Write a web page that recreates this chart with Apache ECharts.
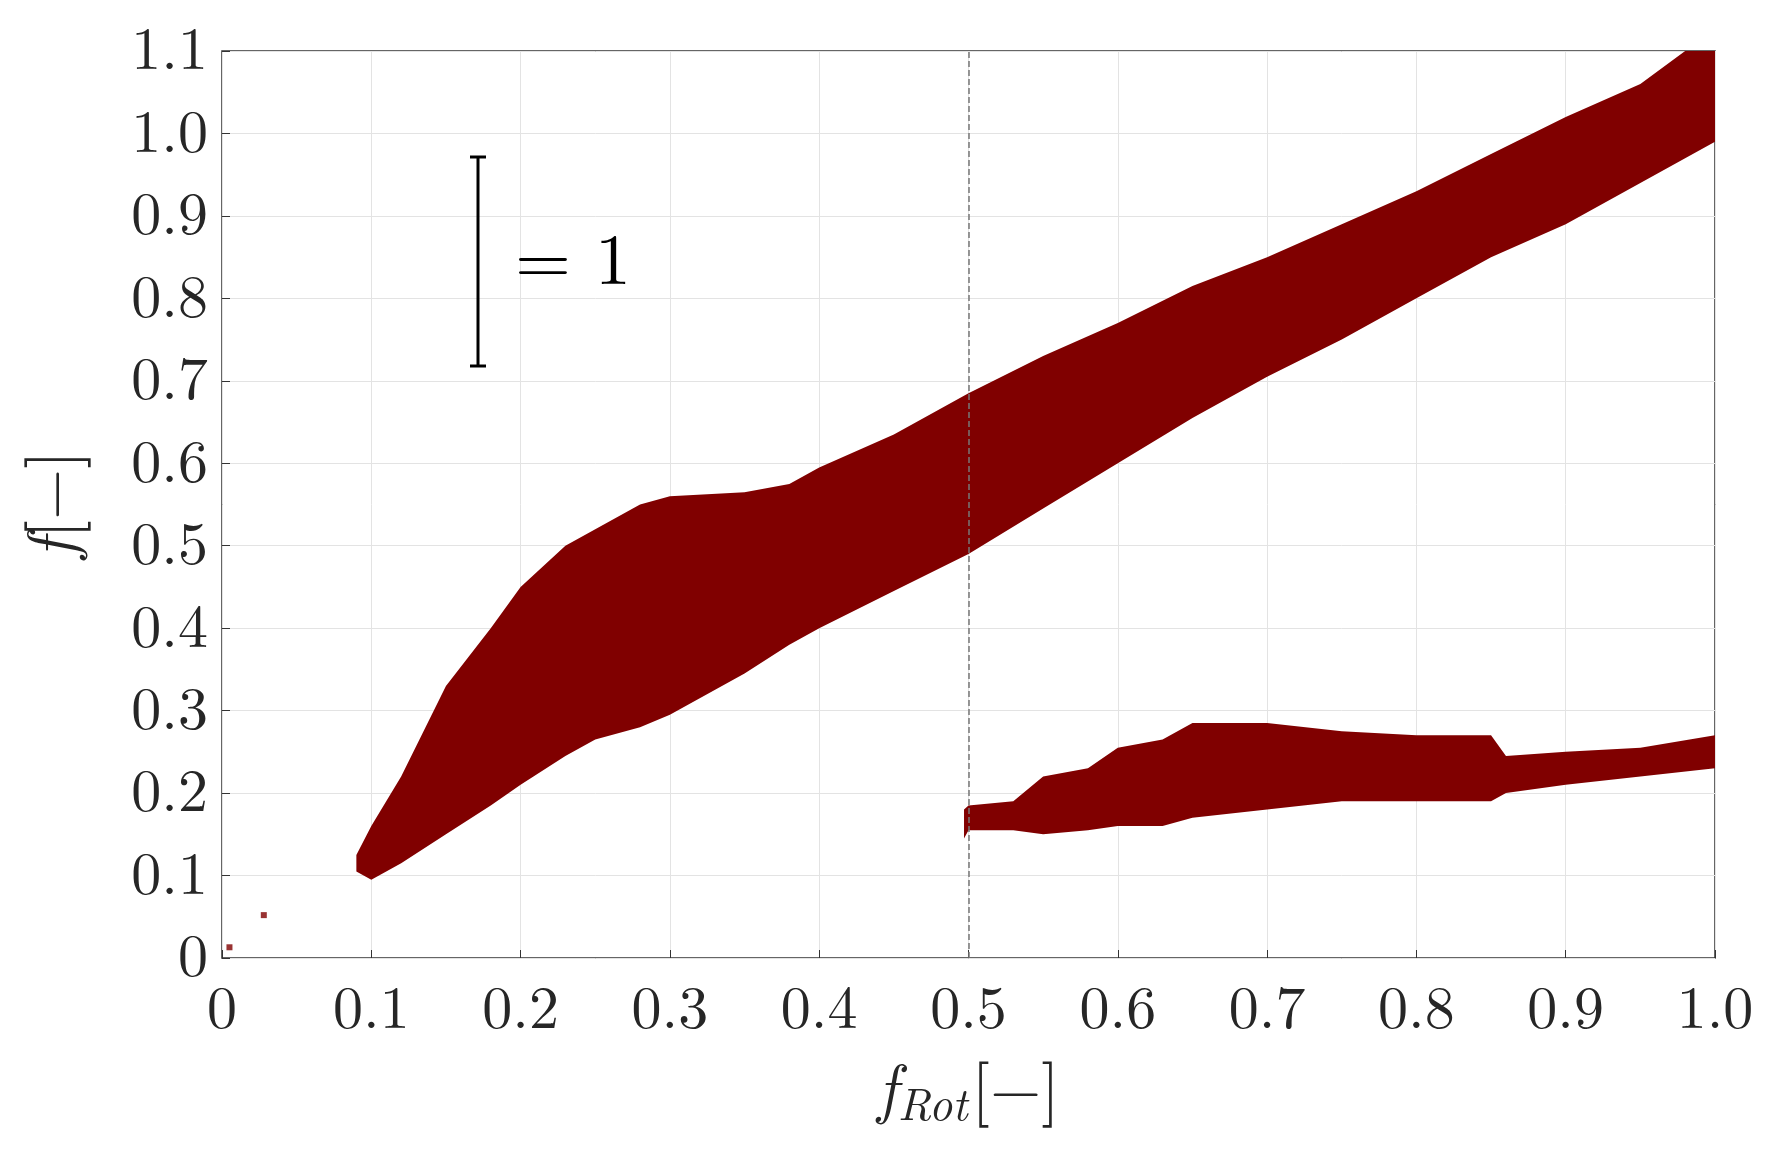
<!DOCTYPE html>
<html><head><meta charset="utf-8">
<script src="https://cdn.jsdelivr.net/npm/echarts@6/dist/echarts.min.js"></script>
<style>html,body{margin:0;padding:0;background:#fff}#c{width:1783px;height:1152px}</style>
</head><body><div id="c"></div>
<script>
const xTicks = [0,0.1,0.2,0.3,0.4,0.5,0.6,0.7,0.8,0.9,1.0];
const band1X     = [0.09,0.1,0.12,0.15,0.18,0.2,0.23,0.25,0.28,0.3,0.35,0.38,0.4,0.45,0.5,0.55,0.6,0.65,0.7,0.75,0.8,0.85,0.9,0.95,0.98,1.0];
const band1Upper = [0.125,0.16,0.22,0.33,0.40,0.45,0.50,0.52,0.55,0.56,0.565,0.575,0.595,0.635,0.685,0.73,0.77,0.815,0.85,0.89,0.93,0.975,1.02,1.06,1.1,1.1];
const band1Lower = [0.105,0.095,0.115,0.15,0.185,0.21,0.245,0.265,0.28,0.295,0.345,0.38,0.40,0.445,0.49,0.545,0.60,0.655,0.705,0.75,0.80,0.85,0.89,0.94,0.97,0.99];
const band2X     = [0.497,0.5,0.53,0.55,0.58,0.6,0.63,0.65,0.7,0.75,0.8,0.85,0.86,0.9,0.95,1.0];
const band2Upper = [0.18,0.185,0.19,0.22,0.23,0.255,0.265,0.285,0.285,0.275,0.27,0.27,0.245,0.25,0.255,0.27];
const band2Lower = [0.145,0.155,0.155,0.15,0.155,0.16,0.16,0.17,0.18,0.19,0.19,0.19,0.20,0.21,0.22,0.23];
const dots = [[0.005,0.013],[0.028,0.052]];
const refLineX = 0.498;

const chart = echarts.init(document.getElementById('c'));
function band(xs, up, lo){
  return {
    type:'custom', silent:true, data:[0],
    renderItem:function(params, api){
      const pts=[];
      for(let i=0;i<xs.length;i++) pts.push(api.coord([xs[i],up[i]]));
      for(let i=xs.length-1;i>=0;i--) pts.push(api.coord([xs[i],lo[i]]));
      return {type:'polygon', shape:{points:pts}, style:{fill:'#800000'}};
    }, z:3
  };
}
const font='"Latin Modern Roman","DejaVu Serif","Liberation Serif",serif';
chart.setOption({
  animation:false,
  grid:{left:222,right:68,top:51,bottom:194,show:true,borderColor:'#333',borderWidth:1.5,backgroundColor:'transparent'},
  xAxis:{type:'value',min:0,max:1,interval:0.1,
    axisLine:{show:false},
    axisTick:{inside:true,length:8,lineStyle:{color:'#333'}},
    splitLine:{show:true,lineStyle:{color:'#e3e3e3'}},
    axisLabel:{fontFamily:font,fontSize:60,color:'#262626',margin:22,
      formatter:v=>{const r=Math.round(v*10)/10; return r===0?'0':r.toFixed(1);}},
    name:'{i|f}{s|Rot}{n|[−]}',nameLocation:'middle',nameGap:95,
    nameTextStyle:{rich:{i:{fontFamily:font,fontStyle:'italic',fontSize:66,color:'#262626'},
      s:{fontFamily:font,fontStyle:'italic',fontSize:46,color:'#262626',verticalAlign:'bottom',padding:[30,4,0,0]},
      n:{fontFamily:font,fontSize:66,color:'#262626'}}}
  },
  yAxis:{type:'value',min:0,max:1.1,interval:0.1,
    axisLine:{show:false},
    axisTick:{inside:true,length:8,lineStyle:{color:'#333'}},
    splitLine:{show:true,lineStyle:{color:'#e3e3e3'}},
    axisLabel:{fontFamily:font,fontSize:60,color:'#262626',margin:14,
      formatter:v=>{const r=Math.round(v*10)/10; return r===0?'0':r.toFixed(1);}},
    name:'{i|f}{n|[−]}',nameLocation:'middle',nameGap:135,nameRotate:90,
    nameTextStyle:{rich:{i:{fontFamily:font,fontStyle:'italic',fontSize:66,color:'#262626'},
      n:{fontFamily:font,fontSize:66,color:'#262626'}}}
  },
  series:[
    band(band1X,band1Upper,band1Lower),
    band(band2X,band2Upper,band2Lower),
    {type:'scatter',data:dots,symbol:'rect',symbolSize:6,itemStyle:{color:'#800000'},z:3,
     markLine:{silent:true,symbol:'none',label:{show:false},lineStyle:{color:'#777',type:'dashed',width:1.5},data:[{xAxis:refLineX}]}}
  ],
  graphic:[
    {type:'line',shape:{x1:478,y1:157,x2:478,y2:366},style:{stroke:'#000',lineWidth:3},z:10},
    {type:'line',shape:{x1:470,y1:157,x2:486,y2:157},style:{stroke:'#000',lineWidth:3},z:10},
    {type:'line',shape:{x1:470,y1:366,x2:486,y2:366},style:{stroke:'#000',lineWidth:3},z:10},
    {type:'text',left:515,top:226,style:{text:'= 1',font:'72px '+font,fill:'#000'},z:10}
  ]
});
</script></body></html>
